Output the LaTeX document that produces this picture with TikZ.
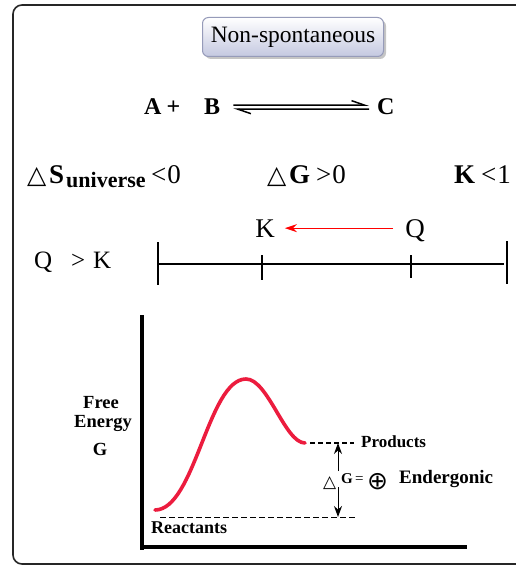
\documentclass[tikz,border=0pt]{standalone}
\usepackage{fontspec}
\setmainfont{Liberation Serif}
\newfontfamily\symfont{DejaVu Sans}
\usetikzlibrary{arrows.meta,shadows,calc}
\newcommand\fsz[1]{\fontsize{#1}{#1}\selectfont}
\definecolor{boxbot}{RGB}{196,200,224}
\definecolor{boxline}{RGB}{150,155,185}
\definecolor{curvered}{RGB}{236,28,62}
\begin{document}
\begin{tikzpicture}[x=1pt,y=-1pt,
  lbl/.style={inner sep=0pt, anchor=base west},
  lblc/.style={inner sep=0pt, anchor=base},
  titlebox/.style={draw=boxline, line width=1pt, rounded corners=6pt, top color=white, bottom color=boxbot,
     minimum width=181pt, minimum height=39pt, font=\fsz{23.5},
     drop shadow={shadow xshift=2.5pt, shadow yshift=-2.5pt, opacity=0.45}},
  harp/.style={line width=1.5pt, -{Straight Barb[harpoon,length=13pt,width=9pt,line width=1.5pt]}},
  tick/.style={line width=1.6pt},
  axis/.style={line width=4.5pt},
  dashr/.style={dash pattern=on 6pt off 3pt, line width=0.9pt},
  dashp/.style={dash pattern=on 5pt off 3pt, line width=2.4pt},
  dgarrow/.style={line width=1pt, -{Stealth[length=11pt,width=8pt]}}
]
\useasboundingbox (0,0) rectangle (516,567);
\fill[white] (0,0) rectangle (516,567);
\draw[line width=1.6pt, rounded corners=9pt, black!85] (13,5) rectangle (545,564);

% title
\node[titlebox] (title) at (293,37) {Non-spontaneous};

% reaction
\node[lbl, font=\bfseries\fsz{24}] (Ap) at (144,114) {A\hspace{5pt}+};
\node[lbl, font=\bfseries\fsz{24}] (B) at (204,114) {B};
\node[lbl, font=\bfseries\fsz{24}] (C) at (377,114) {C};
\draw[harp] ($(B.east)+(13,-1)$) -- ($(C.west)+(-8,-1)$);
\draw[harp] ($(C.west)+(-8,3)$) -- ($(B.east)+(13,3)$);

% row 3
\node[lbl, font=\symfont\fsz{25}] (t1) at (27,183) {△};
\node[lbl, font=\bfseries\fsz{27}] (S) at (49,183) {S};
\node[lbl, font=\bfseries\fsz{22}] (univ) at (66,187) {universe};
\node[lbl, font=\fsz{27}] (lt1) at (151,183) {<\hspace{1pt}0};
\node[lbl, font=\symfont\fsz{25}] (t2) at (267,183) {△};
\node[lbl, font=\bfseries\fsz{27}] (G1) at (289,183) {G};
\node[lbl, font=\fsz{27}] (gt1) at (316,183) {>\hspace{1pt}0};
\node[lbl, font=\bfseries\fsz{27}] (K1) at (454,183) {K};
\node[lbl, font=\fsz{27}] (lt2) at (481,183) {<\hspace{1pt}1};

% K and Q
\node[lblc, font=\fsz{27}] (K) at (265,237) {K};
\node[lblc, font=\fsz{27}] (Q) at (415,237) {Q};
\draw[red, line width=1.2pt, -{Stealth[length=12pt,width=8pt]}, shorten >=10pt, shorten <=12pt] (Q.west |- K.east) -- (K.east);

\node[lbl, font=\fsz{25}] (Q2) at (34,268) {Q};
\node[lbl, font=\fsz{25}] (gt2) at (71,268) {>};
\node[lbl, font=\fsz{25}] (K2) at (93,268) {K};

% number line
\draw[line width=1.4pt] (158,264) -- (504,264);
\draw[tick] (158,242) -- (158,285);
\draw[tick] (262,255) -- (262,280);
\draw[tick] (411,255) -- (411,278);
\draw[tick] (507,241) -- (507,284);

% graph axes
\draw[axis] (142,315) -- (142,550);
\draw[axis] (140,547) -- (467,547);

\node[lblc, font=\bfseries\fsz{18.5}] (free) at (101,408) {Free};
\node[lblc, font=\bfseries\fsz{18.5}] (energy) at (103,427) {Energy};
\node[lblc, font=\bfseries\fsz{18.5}] (Glab) at (100,455) {G};

% curve
\draw[curvered, line width=3.6pt, line cap=round] (155,510) .. controls (195,510) and (208,379) .. (246,379)
   .. controls (268,379) and (285,443) .. (305,443);

% levels
\coordinate (rl) at (160,517);
\coordinate (rr) at (356,517);
\coordinate (pl) at (310,443);
\coordinate (pr) at (354,443);
\draw[dashr] (rl) -- (rr);
\draw[dashp] (pl) -- (pr);
\node[lbl, font=\bfseries\fsz{18}] (react) at (151,533) {Reactants};
\node[lbl, font=\bfseries\fsz{17}] (prod) at (361,447) {Products};

\coordinate (ptop) at (338,443);
\coordinate (pbot) at (338,517);
\coordinate (atop) at (338,471);
\coordinate (abot) at (338,487);
\draw[dgarrow] (atop) -- (ptop);
\draw[dgarrow] (abot) -- (pbot);

\node[lbl, font=\symfont\fsz{17}] (t3) at (323,487) {△};
\node[lbl, font=\bfseries\fsz{15}] (G3) at (341,483) {G};
\node[lbl, font=\fsz{15}] (eq) at (355,483) {=};
\node[lbl, font=\symfont\fsz{25}] (oplus) at (367,489) {⊕};
\node[lbl, font=\bfseries\fsz{19}] (ender) at (399,483) {Endergonic};
\end{tikzpicture}
\end{document}
